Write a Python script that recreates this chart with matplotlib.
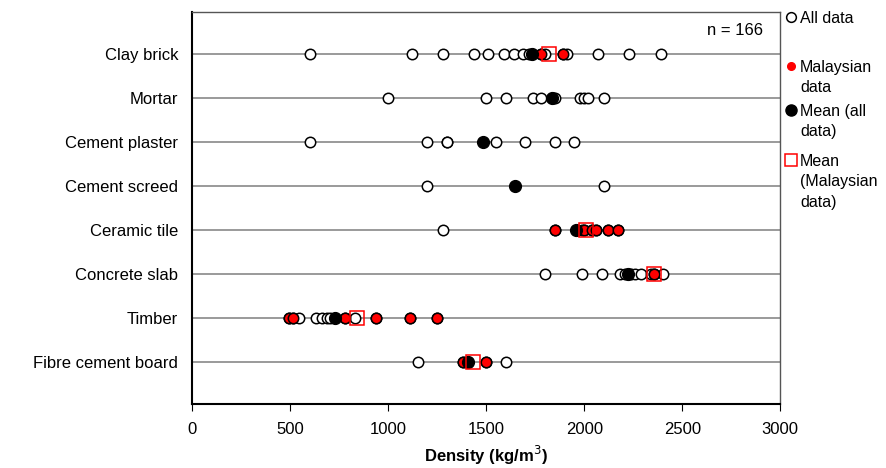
import matplotlib
matplotlib.use("Agg")
import matplotlib.pyplot as plt
from matplotlib.lines import Line2D

plt.rcParams["font.family"] = ["Liberation Sans", "DejaVu Sans"]

# materials, top to bottom
materials = ["Clay brick", "Mortar", "Cement plaster", "Cement screed",
             "Ceramic tile", "Concrete slab", "Timber", "Fibre cement board"]

# density values (kg/m3)
all_data = [
    [600, 1120, 1280, 1440, 1510, 1590, 1640, 1690, 1720, 1780, 1800, 1890, 1910, 2070, 2230, 2390],
    [1000, 1500, 1600, 1740, 1780, 1840, 1850, 1980, 2000, 2020, 2100],
    [600, 1200, 1300, 1300, 1550, 1700, 1850, 1950],
    [1200, 2100],
    [1280, 1850, 1990, 2000, 2040, 2060, 2120, 2170],
    [1800, 1990, 2090, 2185, 2210, 2240, 2260, 2290, 2340, 2355, 2400],
    [495, 515, 545, 630, 662, 687, 705, 781, 830, 940, 1110, 1250],
    [1150, 1380, 1500, 1600],
]
malaysian_data = [
    [1780, 1890],
    [],
    [],
    [],
    [1850, 2000, 2040, 2060, 2120, 2170],
    [2355],
    [495, 515, 781, 940, 1110, 1250],
    [1380, 1500],
]
mean_all = [1735, 1835, 1485, 1645, 1960, 2222, 728, 1405]
mean_malaysian = [1818, None, None, None, 2010, 2355, 842, 1435]

n_text = "n = 166"
legend_labels = ["All data", "Malaysian\ndata", "Mean (all\ndata)", "Mean\n(Malaysian\ndata)"]

W, H = 886, 468
fig = plt.figure(figsize=(W / 100, H / 100), dpi=100)
ax = fig.add_axes([0.2167, 0.137, 0.664, 0.837])

n = len(materials)
ypos = [n - i for i in range(n)]

for y in ypos:
    ax.axhline(y, color="#9a9a9a", lw=1.4, zorder=1)

for i, y in enumerate(ypos):
    ax.plot(all_data[i], [y] * len(all_data[i]), "o", ms=7.5, mfc="white",
            mec="black", mew=1.1, ls="none", zorder=2)
    if malaysian_data[i]:
        ax.plot(malaysian_data[i], [y] * len(malaysian_data[i]), "o", ms=7.5,
                mfc="red", mec="black", mew=1.1, ls="none", zorder=3)
    ax.plot(mean_all[i], y, "o", ms=8.5, mfc="black", mec="black", zorder=4)
    if mean_malaysian[i] is not None:
        ax.plot(mean_malaysian[i], y, "s", ms=10.5, mfc="none", mec="red",
                mew=1.1, zorder=5)

ax.set_xlim(0, 3000)
ax.set_ylim(0.05, n + 0.95)
ax.set_xticks(range(0, 3001, 500))
ax.set_yticks(ypos)
ax.set_yticklabels(materials, fontsize=12)
ax.tick_params(axis="y", length=0, pad=10)
ax.tick_params(axis="x", direction="out", length=5, labelsize=12, pad=8)
ax.set_xlabel("Density (kg/m$^3$)", fontsize=12, fontweight="bold", labelpad=5)

for side in ["top", "right"]:
    ax.spines[side].set_color("#555555")
    ax.spines[side].set_linewidth(1.0)
for side in ["left", "bottom"]:
    ax.spines[side].set_linewidth(1.5)

ax.text(0.97, 0.952, n_text, transform=ax.transAxes, ha="right", va="center",
        fontsize=12)

# legend drawn by hand: marker level with the first text line
markers = [
    dict(marker="o", ms=7, mfc="white", mec="black", mew=1.1),
    dict(marker="o", ms=5.5, mfc="red", mec="red"),
    dict(marker="o", ms=8, mfc="black", mec="black"),
    dict(marker="s", ms=8, mfc="none", mec="red", mew=1.1),
]
entry_y = [17, 66, 110, 160]
for lab, mk, yp in zip(legend_labels, markers, entry_y):
    yf = 1 - yp / H
    fig.add_artist(Line2D([791 / W], [yf], ls="none", transform=fig.transFigure, **mk))
    # va top puts the first line's top at yf; lift it so the line centres on the marker
    fig.text(800 / W, yf + 6 / H, lab, fontsize=11.5, ha="left", va="top",
             linespacing=1.45, transform=fig.transFigure)

fig.savefig("out.png", dpi=100)
